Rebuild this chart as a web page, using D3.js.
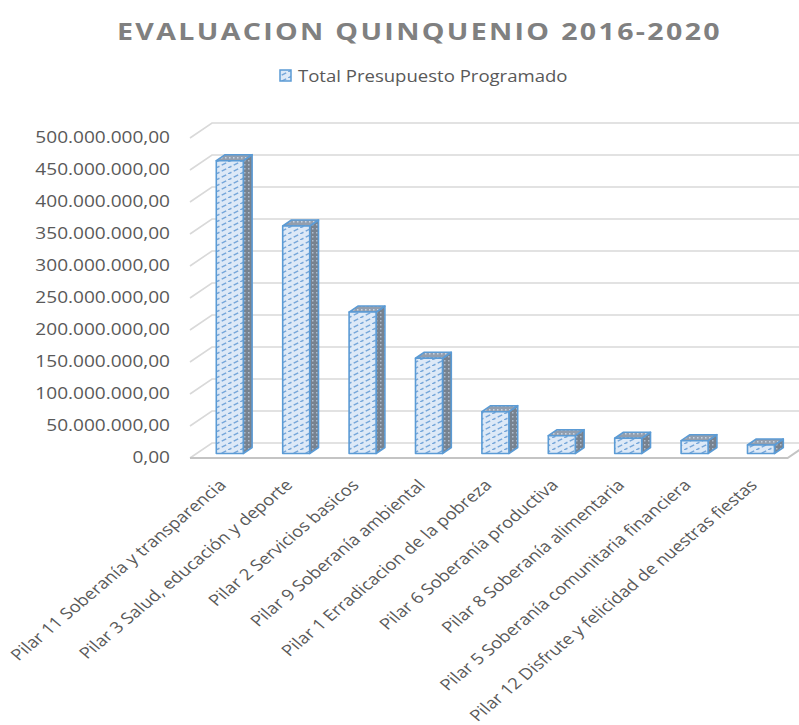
<!DOCTYPE html>
<html><head><meta charset="utf-8">
<script src="https://cdn.jsdelivr.net/npm/d3@7"></script>
<style>body{margin:0;background:#fff}</style></head><body>
<script>
const title = "EVALUACION QUINQUENIO 2016-2020";
const seriesName = "Total Presupuesto Programado";
const categories = [
  "Pilar 11 Soberanía y transparencia",
  "Pilar 3 Salud, educación y deporte",
  "Pilar 2 Servicios basicos",
  "Pilar 9 Soberanía ambiental",
  "Pilar 1 Erradicacion de la pobreza",
  "Pilar 6 Soberanía productiva",
  "Pilar 8 Soberanía alimentaria",
  "Pilar 5 Soberanía comunitaria financiera",
  "Pilar 12 Disfrute y felicidad de nuestras fiestas"
];
const values = [457500000, 355500000, 221000000, 148800000, 65300000, 27800000, 23800000, 20000000, 13300000];
const yTicks = [0, 50000000, 100000000, 150000000, 200000000, 250000000, 300000000, 350000000, 400000000, 450000000, 500000000];

const W = 799, H = 725, SX = 1.19;
const svg = d3.select("body").append("svg").attr("width", W).attr("height", H)
  .style("font-family", "'Open Sans', sans-serif");

const floorY = 458, depthX = 22, depthY = -15, x0 = 190, x1 = 787.6;
const fF = 0.3, fB = 0.7, barW = 27;
const x = d3.scaleBand().domain(categories).range([x0, x1]);
const h = d3.scaleLinear().domain([0, 500000000]).range([0, 320]);
const locale = d3.formatLocale({decimal: ",", thousands: ".", grouping: [3], currency: ["", ""]});
const fmt = locale.format(",.2f");

// patterns
const defs = svg.append("defs");
const pf = defs.append("pattern").attr("id", "pFront").attr("patternUnits", "userSpaceOnUse")
  .attr("width", 12).attr("height", 6);
pf.append("rect").attr("width", 12).attr("height", 6).attr("fill", "#dde9f7");
pf.append("path").attr("d", "M-1,6.5 L13,-0.5").attr("stroke", "#76a7da").attr("stroke-width", 1.5).attr("stroke-dasharray", "5,2.5");
const ps = defs.append("pattern").attr("id", "pSide").attr("patternUnits", "userSpaceOnUse")
  .attr("width", 4).attr("height", 4);
ps.append("rect").attr("width", 4).attr("height", 4).attr("fill", "#77828f");
ps.append("rect").attr("x", 0).attr("y", 0).attr("width", 1.5).attr("height", 1.5).attr("fill", "#aebdcf");
const pt = defs.append("pattern").attr("id", "pTop").attr("patternUnits", "userSpaceOnUse")
  .attr("width", 4).attr("height", 4);
pt.append("rect").attr("width", 4).attr("height", 4).attr("fill", "#929eae");
pt.append("rect").attr("x", 1).attr("y", 1).attr("width", 1.5).attr("height", 1.5).attr("fill", "#c8d4e2");

// gridlines
svg.append("g").selectAll("path").data(yTicks).join("path")
  .attr("d", t => `M${x0},${floorY - h(t)} L${x0 + depthX},${floorY + depthY - h(t)} L${W + 5},${floorY + depthY - h(t)}`)
  .attr("fill", "none").attr("stroke", "#d9d9d9").attr("stroke-width", 1.6);
// floor
svg.append("path")
  .attr("d", `M${x0},${floorY} L${x1},${floorY} L${x1 + depthX},${floorY + depthY}`)
  .attr("fill", "none").attr("stroke", "#c4c4c4").attr("stroke-width", 2);

// y labels
svg.append("g").selectAll("text").data(yTicks).join("text")
  .attr("transform", t => `translate(170,${floorY - h(t) - 1}) scale(${SX},1)`)
  .attr("text-anchor", "end").attr("dominant-baseline", "central")
  .attr("font-size", 16).attr("fill", "#595959").text(fmt);

// bars
const data = categories.map((c, i) => ({c, v: values[i]}));
const dxb = (fB - fF) * depthX, dyb = (fB - fF) * depthY;
const y0 = floorY + fF * depthY;
const bx = d => x(d.c) + (x.bandwidth() - barW) / 2 + fF * depthX;
const bars = svg.append("g").selectAll("g").data(data).join("g")
  .attr("stroke", "#5b9bd5").attr("stroke-width", 1.6).attr("stroke-linejoin", "round");
bars.append("path").attr("fill", "url(#pSide)")
  .attr("d", d => { const X = bx(d) + barW, T = y0 - h(d.v);
    return `M${X},${T} L${X + dxb},${T + dyb} L${X + dxb},${y0 + dyb} L${X},${y0} Z`; });
bars.append("path").attr("fill", "url(#pTop)")
  .attr("d", d => { const X = bx(d), T = y0 - h(d.v);
    return `M${X},${T} L${X + dxb},${T + dyb} L${X + barW + dxb},${T + dyb} L${X + barW},${T} Z`; });
bars.append("rect").attr("fill", "url(#pFront)")
  .attr("x", d => bx(d)).attr("y", d => y0 - h(d.v)).attr("width", barW).attr("height", d => h(d.v));

// x labels
svg.append("g").selectAll("text").data(categories).join("text")
  .attr("transform", c => `translate(${x(c) + x.bandwidth() / 2 - 1},${482}) scale(${SX},1) rotate(-45)`)
  .attr("text-anchor", "end").attr("dominant-baseline", "central")
  .attr("font-size", 15.6).attr("fill", "#595959").text(c => c);

// title
const tt = svg.append("text").attr("transform", `translate(419.5,40) scale(${SX},1)`)
  .attr("text-anchor", "middle").attr("font-size", 24).attr("font-weight", "bold")
  .attr("fill", "#808080").text(title);
const w0 = tt.node().getComputedTextLength();
tt.attr("letter-spacing", (605 / SX - w0) / (title.length));

// legend
svg.append("rect").attr("x", 280).attr("y", 70).attr("width", 11).attr("height", 11)
  .attr("fill", "url(#pFront)").attr("stroke", "#5b9bd5").attr("stroke-width", 1.5);
svg.append("text").attr("transform", `translate(298,76) scale(${SX},1)`)
  .attr("dominant-baseline", "central").attr("font-size", 15.6).attr("fill", "#595959").text(seriesName);
</script>
</body></html>
